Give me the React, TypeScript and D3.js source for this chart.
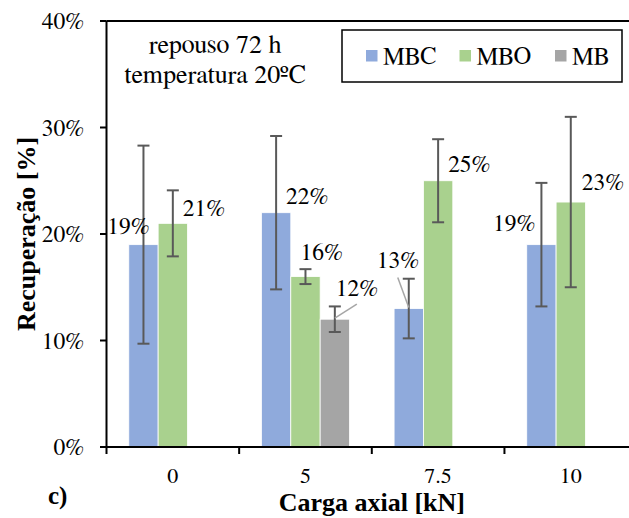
import React from "react";
import * as d3 from "d3";

const categories = ["0", "5", "7.5", "10"];
const seriesNames = ["MBC", "MBO", "MB"];
const seriesColors = ["#8FAADC", "#A9D18E", "#A5A5A5"];
// values in %, null = no bar
const mbcValues = [19, 22, 13, 19];
const mboValues = [21, 16, 25, 23];
const mbValues: (number | null)[] = [null, 12, null, null];
const mbcErr = [9.3, 7.2, 2.8, 5.8];
const mboErr = [3.1, 0.7, 3.9, 8.0];
const mbErr: (number | null)[] = [null, 1.2, null, null];
const yTicks = [0, 10, 20, 30, 40];
const noteLines = ["repouso 72 h", "temperatura 20ºC"];

// label layout relative to bar center / top: [dx, dy, anchor, leaderDx, leaderDy]
type LL = [number, number, string, number | null, number | null];
const labelLayout: LL[][] = [
  [[6, -11, "end", null, null], [10, -9, "start", null, null], [-32, -41, "start", -11, -31], [-6, -14, "end", null, null]],
  [[10, -7, "start", null, null], [-5, -17, "start", null, null], [10, -9, "start", null, null], [11, -12, "start", null, null]],
  [[0, 0, "start", null, null], [1, -23, "start", 22, -15], [0, 0, "start", null, null], [0, 0, "start", null, null]],
];

const W = 629;
const H = 518;
const left = 106.5;
const right = 637.1;
const top = 21;
const bottom = 447;
const font = '"FreeSerif"';
const boldFont = '"Liberation Serif"';

export default function App() {
  const x = d3.scaleBand<string>().domain(categories).range([left, right]).padding(0);
  const bw = x.bandwidth();
  const groupW = bw * 0.664;
  const x1 = d3.scaleBand<string>().domain(seriesNames).range([(bw - groupW) / 2, (bw + groupW) / 2]).padding(0);
  const y = d3.scaleLinear().domain([0, 40]).range([bottom, top]);
  const values = [mbcValues, mboValues, mbValues];
  const errs = [mbcErr, mboErr, mbErr];
  const capW = 12;
  const reg = { fontFamily: font };
  const bold = { fontFamily: boldFont, fontWeight: "bold" as const };

  const bars: React.ReactNode[] = [];
  const errBars: React.ReactNode[] = [];
  const labels: React.ReactNode[] = [];
  seriesNames.forEach((s, si) => {
    categories.forEach((c, ci) => {
      const v = values[si][ci];
      if (v == null) return;
      const x0 = (x(c) as number) + (x1(s) as number);
      const cx = x0 + x1.bandwidth() / 2;
      bars.push(
        <rect key={`b${si}${ci}`} x={x0} y={y(v)} width={x1.bandwidth()} height={y(0) - y(v)}
          fill={seriesColors[si]} stroke="#ffffff" strokeWidth={0.8} />
      );
      const e = errs[si][ci] as number;
      const yt = y(v + e), yb = y(v - e);
      errBars.push(
        <g key={`e${si}${ci}`} stroke="#595959" strokeWidth={2}>
          <line x1={cx} x2={cx} y1={yt} y2={yb} />
          <line x1={cx - capW / 2} x2={cx + capW / 2} y1={yt} y2={yt} />
          <line x1={cx - capW / 2} x2={cx + capW / 2} y1={yb} y2={yb} />
        </g>
      );
      const [dx, dy, anchor, lx, ly] = labelLayout[si][ci];
      labels.push(
        <text key={`l${si}${ci}`} x={cx + dx} y={y(v) + dy} textAnchor={anchor as any}
          fontSize={23.5} fill="#000" style={reg}>{`${v}%`}</text>
      );
      if (lx != null && ly != null) {
        labels.push(
          <line key={`ld${si}${ci}`} x1={cx + lx} y1={y(v) + ly} x2={cx} y2={y(v) - 1}
            stroke="#A6A6A6" strokeWidth={1.5} />
        );
      }
    });
  });

  const legendX = [366, 459.5, 555];
  return (
    <svg width={W} height={H} style={{ position: "absolute", left: 0, top: 0 }}>
      <rect x={0} y={0} width={W} height={H} fill="#fff" />
      <line x1={left} x2={W} y1={top} y2={top} stroke="#000" strokeWidth={2} />
      {bars}
      {errBars}
      {labels}
      <line x1={left} x2={left} y1={top} y2={bottom + 7} stroke="#000" strokeWidth={2} />
      {yTicks.map((t) => (
        <g key={`yt${t}`}>
          <line x1={left - 6.5} x2={left} y1={y(t)} y2={y(t)} stroke="#000" strokeWidth={2} />
          <text x={84} y={y(t)} dy="0.35em" textAnchor="end" fontSize={23.5} style={reg}>{`${t}%`}</text>
        </g>
      ))}
      <line x1={left} x2={W} y1={bottom} y2={bottom} stroke="#000" strokeWidth={2} />
      {categories.map((c, i) => (
        <g key={`xt${c}`}>
          {i > 0 && <line x1={x(c)} x2={x(c)} y1={bottom} y2={bottom + 7} stroke="#000" strokeWidth={2} />}
          <text x={(x(c) as number) + bw / 2} y={483} textAnchor="middle" fontSize={22} style={reg}>{c}</text>
        </g>
      ))}
      <text x={(left + right) / 2} y={511} textAnchor="middle" fontSize={26} style={bold}>Carga axial [kN]</text>
      <text transform={`translate(35,${(top + bottom) / 2}) rotate(-90)`} textAnchor="middle" fontSize={26} style={bold}>Recuperação [%]</text>
      <text x={48} y={504} fontSize={25} style={bold}>c)</text>
      {noteLines.map((t, i) => (
        <text key={t} x={215} y={53 + i * 30} textAnchor="middle" fontSize={26} style={reg}>{t}</text>
      ))}
      <rect x={342} y={30} width={280} height={52} fill="#fff" stroke="#000" strokeWidth={1.5} />
      {seriesNames.map((s, i) => (
        <g key={`lg${s}`}>
          <rect x={legendX[i]} y={50} width={11.5} height={11.5} fill={seriesColors[i]} />
          <text x={legendX[i] + 17} y={64} fontSize={24.5} style={reg}>{s}</text>
        </g>
      ))}
    </svg>
  );
}
